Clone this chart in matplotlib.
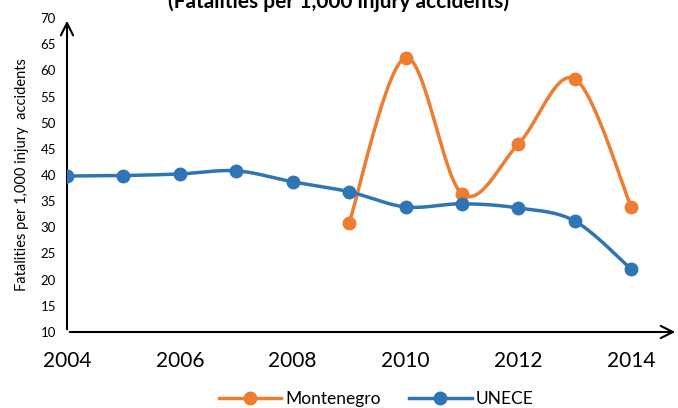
import numpy as np
import matplotlib.pyplot as plt

plt.rcParams['font.family'] = ['Lato', 'DejaVu Sans']

years = [2004, 2005, 2006, 2007, 2008, 2009, 2010, 2011, 2012, 2013, 2014]
unece = [39.8, 39.9, 40.2, 40.8, 38.7, 36.8, 33.9, 34.5, 33.7, 31.2, 22.0]
mne_years = [2009, 2010, 2011, 2012, 2013, 2014]
montenegro = [30.8, 62.4, 36.4, 45.9, 58.4, 33.9]

orange = "#ED7D31"
blue = "#2E75B6"


def smooth(x, y, n=30):
    # excel-like smoothed line: bezier through points, tangents from neighbours
    x = np.asarray(x, float)
    y = np.asarray(y, float)
    px, py = [], []
    for i in range(len(x) - 1):
        x0, y0 = (x[i - 1], y[i - 1]) if i > 0 else (x[i], y[i])
        x3, y3 = (x[i + 2], y[i + 2]) if i + 2 < len(x) else (x[i + 1], y[i + 1])
        c1x = x[i] + (x[i + 1] - x0) / 6
        c1y = y[i] + (y[i + 1] - y0) / 6
        c2x = x[i + 1] - (x3 - x[i]) / 6
        c2y = y[i + 1] - (y3 - y[i]) / 6
        t = np.linspace(0, 1, n)
        px.extend((1-t)**3*x[i] + 3*(1-t)**2*t*c1x + 3*(1-t)*t**2*c2x + t**3*x[i+1])
        py.extend((1-t)**3*y[i] + 3*(1-t)**2*t*c1y + 3*(1-t)*t**2*c2y + t**3*y[i+1])
    return px, py


fig = plt.figure(figsize=(6.78, 4.08), dpi=100)
ax = fig.add_axes([67/678, 76/408, 611/678, 314/408])

sx, sy = smooth(mne_years, montenegro)
ax.plot(sx, sy, color=orange, lw=2.5, zorder=3)
ax.plot(mne_years, montenegro, "o", color=orange, ms=9, zorder=4)
sx, sy = smooth(years, unece)
ax.plot(sx, sy, color=blue, lw=2.5, zorder=3)
ax.plot(years, unece, "o", color=blue, ms=9, zorder=4)

# legend handles
ax.plot([], [], "-o", color=orange, lw=2.5, ms=9, label="Montenegro")
ax.plot([], [], "-o", color=blue, lw=2.5, ms=9, label="UNECE")
handles, labels = ax.get_legend_handles_labels()
fig.legend(handles, labels, loc="center", bbox_to_anchor=(0.555, 0.022), ncol=2,
           frameon=False, fontsize=12.5, handlelength=3.6, columnspacing=1.6,
           handletextpad=0.25)

ax.set_xlim(2004, 2014.83)
ax.set_ylim(10, 70)
ax.set_xticks([2004, 2006, 2008, 2010, 2012, 2014])
ax.set_yticks(range(10, 71, 5))
ax.tick_params(axis="x", length=0, labelsize=15, pad=14)
ax.tick_params(axis="y", length=0, labelsize=9.5, pad=8)
ax.set_ylabel("Fatalities per 1,000 injury  accidents", fontsize=10.5, labelpad=8)

for s in ax.spines.values():
    s.set_visible(False)
ax.annotate("", xy=(0, 1.0), xytext=(0, 0), xycoords="axes fraction",
            arrowprops=dict(arrowstyle="->", lw=1.5, color="black", mutation_scale=22),
            annotation_clip=False)
ax.annotate("", xy=(1.0, 0), xytext=(0, 0), xycoords="axes fraction",
            arrowprops=dict(arrowstyle="->", lw=1.5, color="black", mutation_scale=22),
            annotation_clip=False)

fig.text(0.5, 1.02, "(Fatalities per 1,000 injury accidents)", ha="center", va="top",
         fontsize=15, fontweight="bold")

fig.savefig("out.png", dpi=100)
